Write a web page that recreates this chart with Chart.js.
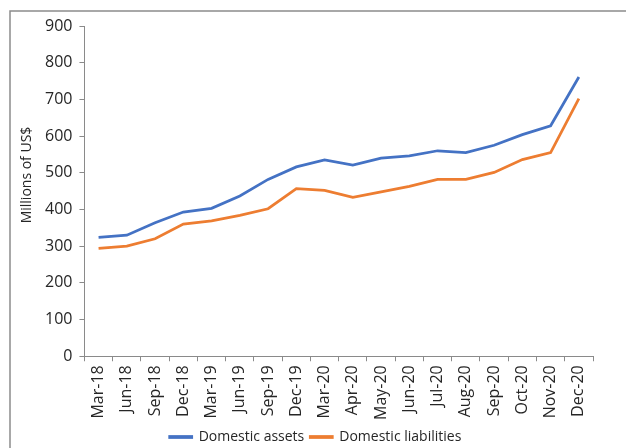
<!DOCTYPE html>
<html>
<head>
<meta charset="utf-8">
<script src="https://cdn.jsdelivr.net/npm/chart.js@4/dist/chart.umd.min.js"></script>
<style>
  html, body { margin: 0; padding: 0; background: #ffffff; }
  #wrap { position: relative; width: 626px; height: 448px; }
  canvas { display: block; }
</style>
</head>
<body>
<div id="wrap"><canvas id="c" width="626" height="448"></canvas></div>
<script>
const categories = ["Mar-18","Jun-18","Sep-18","Dec-18","Mar-19","Jun-19","Sep-19","Dec-19","Mar-20","Apr-20","May-20","Jun-20","Jul-20","Aug-20","Sep-20","Oct-20","Nov-20","Dec-20"];
const domesticAssets = [324, 330, 364, 393, 403, 437, 482, 516, 535, 521, 540, 546, 560, 555, 575, 604, 628, 761];
const domesticLiabilities = [294, 300, 320, 360, 369, 384, 402, 457, 452, 433, 448, 463, 482, 482, 501, 536, 555, 702];
const yTitle = "Millions of US$";
const yMin = 0, yMax = 900, yStep = 100;

const FONT = "'Open Sans', 'DejaVu Sans', sans-serif";
const AXIS = '#8a8a8a';
const TEXT = '#262626';

const framePlugin = {
  id: 'frame',
  beforeDraw(chart) {
    const ctx = chart.ctx;
    ctx.save();
    ctx.strokeStyle = '#8c8c8c';
    ctx.lineWidth = 1.5;
    ctx.beginPath();
    ctx.moveTo(10, 448);
    ctx.lineTo(10, 11);
    ctx.lineTo(626, 11);
    ctx.stroke();
    ctx.restore();
  },
  afterDraw(chart) {
    const ctx = chart.ctx;
    ctx.save();
    ctx.fillStyle = TEXT;
    ctx.font = "14px " + FONT;
    ctx.textAlign = 'center';
    ctx.textBaseline = 'middle';
    ctx.translate(27, 175);
    ctx.rotate(-Math.PI / 2);
    ctx.fillText(yTitle, 0, 0);
    ctx.restore();
  }
};

new Chart(document.getElementById('c'), {
  type: 'line',
  data: {
    labels: categories,
    datasets: [
      { label: 'Domestic assets', data: domesticAssets, borderColor: '#4472C4', backgroundColor: '#4472C4', borderWidth: 2.75, pointRadius: 0, tension: 0 },
      { label: 'Domestic liabilities', data: domesticLiabilities, borderColor: '#ED7D31', backgroundColor: '#ED7D31', borderWidth: 2.75, pointRadius: 0, tension: 0 }
    ]
  },
  options: {
    responsive: false,
    animation: false,
    devicePixelRatio: 1,
    layout: { padding: { left: 38, right: 33, top: 26, bottom: -6 } },
    plugins: {
      legend: {
        position: 'bottom',
        labels: { font: { family: FONT, size: 14 }, color: TEXT, boxWidth: 22, boxHeight: 1, padding: 6 }
      },
      tooltip: { enabled: false }
    },
    scales: {
      x: {
        offset: true,
        grid: { offset: true, drawOnChartArea: false, drawTicks: true, tickLength: 5, color: AXIS },
        border: { display: true, color: AXIS, width: 1 },
        ticks: { font: { family: FONT, size: 16 }, color: TEXT, minRotation: 90, maxRotation: 90, autoSkip: false, padding: 4 }
      },
      y: {
        min: yMin, max: yMax,
        grid: { drawOnChartArea: false, drawTicks: true, tickLength: 5, color: AXIS },
        border: { display: true, color: AXIS, width: 1 },
        ticks: { stepSize: yStep, font: { family: FONT, size: 16 }, color: TEXT, padding: 7 }
      }
    }
  },
  plugins: [framePlugin]
});
</script>
</body>
</html>
